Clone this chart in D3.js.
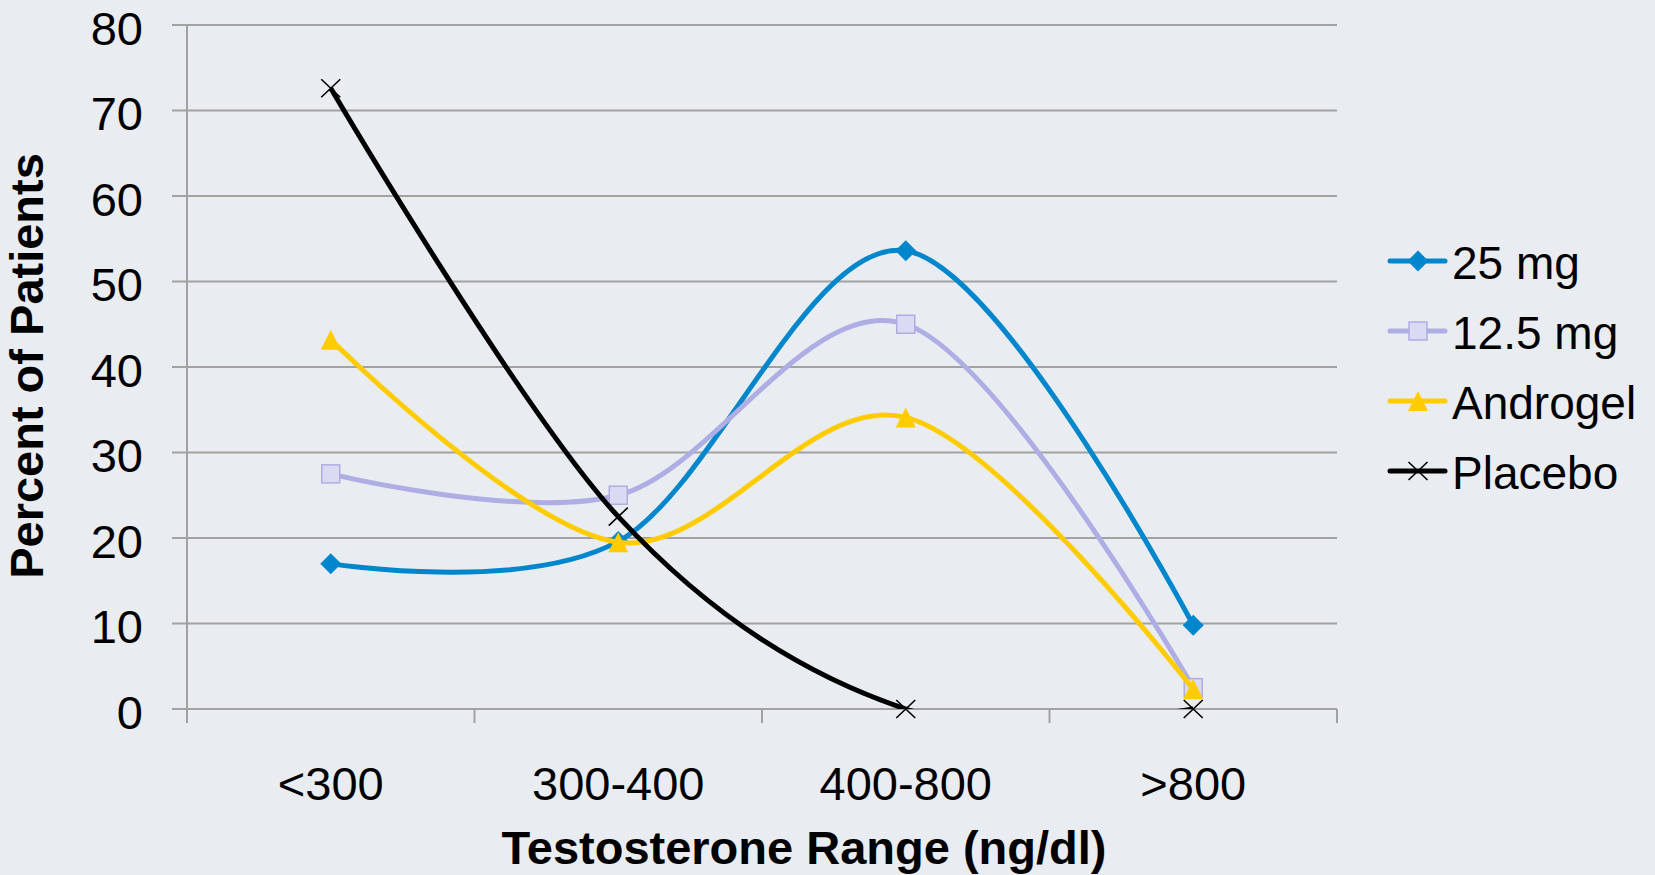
<!DOCTYPE html>
<html>
<head>
<meta charset="utf-8">
<script src="https://cdn.jsdelivr.net/npm/d3@7"></script>
<style>
  html, body { margin: 0; padding: 0; background: #e9ecf1; }
  svg { display: block; font-family: "Liberation Sans", Arial, sans-serif; }
</style>
</head>
<body>
<script>
const categories = ['<300', '300-400', '400-800', '>800'];
const seriesNames = ['25 mg', '12.5 mg', 'Androgel', 'Placebo'];
const mg25 = [17.0, 19.6, 53.6, 9.8];
const mg125 = [27.5, 25.0, 45.0, 2.5];
const androgel = [43.2, 19.5, 34.1, 2.3];
const placebo = [72.6, 22.5, 0, 0];
const yTicks = [0, 10, 20, 30, 40, 50, 60, 70, 80];

const width = 1655;
const height = 875;
const plot = { left: 187, right: 1337, top: 25, bottom: 709 };

const styles = [
  { color: '#0086cc', marker: 'diamond' },
  { color: '#aeaee4', marker: 'square' },
  { color: '#ffcc00', marker: 'triangle' },
  { color: '#000000', marker: 'cross' }
];
const series = [mg25, mg125, androgel, placebo].map((values, i) => ({
  name: seriesNames[i],
  values: values,
  color: styles[i].color,
  marker: styles[i].marker
}));

const svg = d3.select('body')
  .append('svg')
  .attr('width', width)
  .attr('height', height);

svg.append('rect')
  .attr('width', width)
  .attr('height', height)
  .attr('fill', '#e9ecf1');

const x = d3.scalePoint()
  .domain(categories)
  .range([plot.left, plot.right])
  .padding(0.5);

const y = d3.scaleLinear()
  .domain([0, 80])
  .range([plot.bottom, plot.top]);

const gridColor = '#a2a2a2';

// horizontal gridlines (and left ticks)
svg.append('g')
  .selectAll('line')
  .data(yTicks)
  .join('line')
  .attr('x1', plot.left - 15)
  .attr('x2', plot.right)
  .attr('y1', d => y(d))
  .attr('y2', d => y(d))
  .attr('stroke', gridColor)
  .attr('stroke-width', 2);

// y axis line
svg.append('line')
  .attr('x1', plot.left).attr('x2', plot.left)
  .attr('y1', y(80)).attr('y2', plot.bottom + 14)
  .attr('stroke', gridColor)
  .attr('stroke-width', 2);

// category boundary ticks
const step = x.step();
const bounds = d3.range(categories.length + 1).map(i => plot.left + i * step);
svg.append('g')
  .selectAll('line')
  .data(bounds)
  .join('line')
  .attr('x1', d => d).attr('x2', d => d)
  .attr('y1', plot.bottom).attr('y2', plot.bottom + 14)
  .attr('stroke', gridColor)
  .attr('stroke-width', 2);

// y tick labels
svg.append('g')
  .selectAll('text')
  .data(yTicks)
  .join('text')
  .attr('x', 143)
  .attr('y', d => y(d))
  .attr('dy', '0.42em')
  .attr('text-anchor', 'end')
  .style('font-size', '47px')
  .attr('fill', '#000')
  .text(d => d);

// x tick labels
svg.append('g')
  .selectAll('text')
  .data(categories)
  .join('text')
  .attr('x', d => x(d))
  .attr('y', 800)
  .attr('text-anchor', 'middle')
  .style('font-size', '47px')
  .attr('fill', '#000')
  .text(d => d);

// axis titles
svg.append('text')
  .attr('x', 804)
  .attr('y', 864)
  .attr('text-anchor', 'middle')
  .style('font-size', '47px')
  .style('font-weight', 'bold')
  .text('Testosterone Range (ng/dl)');

svg.append('text')
  .attr('transform', 'translate(43, 366) rotate(-90)')
  .attr('text-anchor', 'middle')
  .style('font-size', '47px')
  .style('font-weight', 'bold')
  .text('Percent of Patients');

// clip for lines
svg.append('clipPath')
  .attr('id', 'plot-clip')
  .append('rect')
  .attr('x', plot.left)
  .attr('y', plot.top)
  .attr('width', plot.right - plot.left)
  .attr('height', plot.bottom - plot.top);

const line = d3.line()
  .x((d, i) => x(categories[i]))
  .y(d => y(d))
  .curve(d3.curveCardinal.tension(0));

function drawMarker(g, type, color) {
  if (type === 'diamond') {
    g.append('path')
      .attr('d', 'M0,-10.5L10.5,0L0,10.5L-10.5,0Z')
      .attr('fill', color);
  } else if (type === 'square') {
    g.append('rect')
      .attr('x', -9).attr('y', -9)
      .attr('width', 18).attr('height', 18)
      .attr('fill', '#dadaf2')
      .attr('stroke', '#aeaee4')
      .attr('stroke-width', 1.5);
  } else if (type === 'triangle') {
    g.append('path')
      .attr('d', 'M0,-10L10,10L-10,10Z')
      .attr('fill', color);
  } else {
    g.append('path')
      .attr('d', 'M-9.5,-9L9.5,9M-9.5,9L9.5,-9')
      .attr('stroke', color)
      .attr('stroke-width', 1.6)
      .attr('fill', 'none');
  }
}

series.forEach(s => {
  const g = svg.append('g');
  g.append('path')
    .datum(s.values)
    .attr('clip-path', 'url(#plot-clip)')
    .attr('fill', 'none')
    .attr('stroke', s.color)
    .attr('stroke-width', 5)
    .attr('d', line);
  g.selectAll('g.marker')
    .data(s.values)
    .join('g')
    .attr('class', 'marker')
    .attr('transform', (d, i) => `translate(${x(categories[i])},${y(d)})`)
    .each(function() { drawMarker(d3.select(this), s.marker, s.color); });
});

// legend
const legend = svg.append('g');
series.forEach((s, i) => {
  const cy = 261 + i * 70;
  const item = legend.append('g');
  item.append('line')
    .attr('x1', 1390).attr('x2', 1445)
    .attr('y1', cy).attr('y2', cy)
    .attr('stroke', s.color)
    .attr('stroke-width', 5)
    .attr('stroke-linecap', 'round');
  drawMarker(item.append('g').attr('transform', `translate(1418,${cy})`), s.marker, s.color);
  item.append('text')
    .attr('x', 1452)
    .attr('y', cy + 18)
    .style('font-size', '46px')
    .attr('fill', '#000')
    .text(s.name);
});
</script>
</body>
</html>
